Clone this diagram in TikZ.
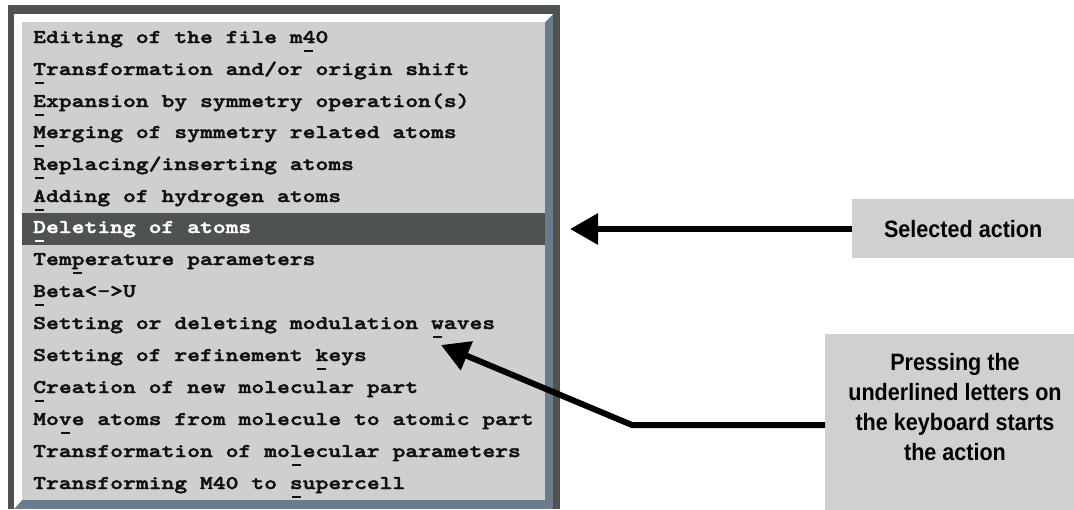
\documentclass[tikz,border=0pt]{standalone}
\usepackage{fontspec}
\usetikzlibrary{arrows.meta}
\newfontfamily\menufont{lmmonolt10-bold.otf}[FakeStretch=1.26,FakeBold=2.2]
\newfontfamily\callfont[FakeStretch=0.91]{Liberation Sans}
\definecolor{framedark}{HTML}{4F534F}
\definecolor{bevelblue}{HTML}{6A7B8E}
\definecolor{panelgray}{HTML}{CFCFCF}
\definecolor{selbar}{HTML}{4F534F}
\definecolor{calloutgray}{HTML}{D0D0D0}
\definecolor{menutext}{HTML}{111111}
\newcommand\ulk[1]{\makebox[0pt][l]{\hspace{1.8pt}\rule[-9pt]{9pt}{2pt}}#1}
\begin{document}
\begin{tikzpicture}[x=1pt,y=-1pt,
  menuitem/.style={anchor=base west,inner sep=0pt,font=\menufont\fontsize{19.4}{24}\selectfont,text=menutext},
  selitem/.style={menuitem,text=white},
  calloutbox/.style={fill=calloutgray,draw=none,inner sep=0pt},
  callouttext/.style={font=\callfont\bfseries\fontsize{23.7}{30.3}\selectfont,align=center,inner sep=0pt,text=black},
  pointer/.style={draw=black,line width=6pt,line join=miter,-{Triangle[length=28pt,width=30pt]}}]
\useasboundingbox (0,0) rectangle (1074,509);
% window frame
\fill[framedark] (8,5) rectangle (560,509);
\fill[bevelblue] (14,14) rectangle (553,509);
\fill[white] (14,14) -- (553,14) -- (545,22) -- (22,22) -- (22,500) -- (14,509) -- cycle;
\fill[panelgray] (22,22) rectangle (545,500);
\fill[selbar] (22,213) rectangle (545,245);
% menu items
\node[menuitem] (m1) at (33,43) {Editing of the file m\ulk{4}0};
\node[menuitem] (m2) at (33,75) {\ulk{T}ransformation and/or origin shift};
\node[menuitem] (m3) at (33,107) {\ulk{E}xpansion by symmetry operation(s)};
\node[menuitem] (m4) at (33,138) {\ulk{M}erging of symmetry related atoms};
\node[menuitem] (m5) at (33,170) {\ulk{R}eplacing/inserting atoms};
\node[menuitem] (m6) at (33,202) {\ulk{A}dding of hydrogen atoms};
\node[selitem] (m7) at (33,233) {\ulk{D}eleting of atoms};
\node[menuitem] (m8) at (33,265) {Tem\ulk{p}erature parameters};
\node[menuitem] (m9) at (33,297) {\ulk{B}eta<->U};
\node[menuitem] (m10) at (33,329) {Setting or deleting modulation \ulk{w}aves};
\node[menuitem] (m11) at (33,361) {Setting of refinement \ulk{k}eys};
\node[menuitem] (m12) at (33,393) {\ulk{C}reation of new molecular part};
\node[menuitem] (m13) at (33,425) {Mo\ulk{v}e atoms from molecule to atomic part};
\node[menuitem] (m14) at (33,457) {Transformation of mo\ulk{l}ecular parameters};
\node[menuitem] (m15) at (33,489) {Transforming M40 to \ulk{s}upercell};
% callouts
\node[calloutbox,minimum width=222pt,minimum height=59pt,anchor=north west,font=\callfont\bfseries\fontsize{23.7}{28}\selectfont] (sel) at (852,199) {Selected action};
\node[calloutbox,minimum width=260pt,minimum height=180pt,anchor=north west] (kbd) at (825,334) {};
\node[callouttext] (kbdtext) at (955,407) {Pressing the\\underlined letters on\\the keyboard starts\\the action};
% connectors
\coordinate (tip1) at (570,229);
\coordinate (bend) at (632,425);
\coordinate (tip2) at (441,345);
\draw[pointer] (sel.west |- tip1) -- (tip1);
\draw[pointer] (kbd.west |- bend) -- (bend) -- (tip2);
\end{tikzpicture}
\end{document}
